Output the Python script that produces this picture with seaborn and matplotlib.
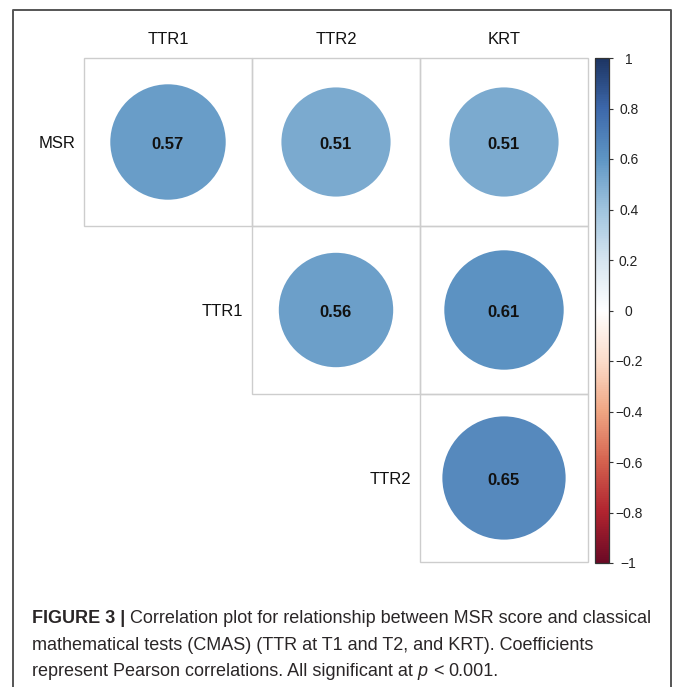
import numpy as np
import pandas as pd
import matplotlib
matplotlib.use("Agg")
import matplotlib.pyplot as plt
import seaborn as sns
from matplotlib.colors import LinearSegmentedColormap, Normalize
from matplotlib.cm import ScalarMappable
from matplotlib.patches import Rectangle
from matplotlib.lines import Line2D

# ---- data -------------------------------------------------------------
row_vars = ["MSR", "TTR1", "TTR2"]
col_vars = ["TTR1", "TTR2", "KRT"]
pair_rows = ["MSR", "MSR", "MSR", "TTR1", "TTR1", "TTR2"]
pair_cols = ["TTR1", "TTR2", "KRT", "TTR2", "KRT", "KRT"]
pearson_r = [0.57, 0.51, 0.51, 0.56, 0.61, 0.65]
cbar_ticks = [-1, -0.8, -0.6, -0.4, -0.2, 0, 0.2, 0.4, 0.6, 0.8, 1]
cbar_labels = ["\u22121", "\u22120.8", "\u22120.6", "\u22120.4", "\u22120.2", "0",
               "0.2", "0.4", "0.6", "0.8", "1"]
caption_lines = [
    [("FIGURE 3 |", "bold", "normal"),
     ("Correlation plot for relationship between MSR score and classical", "normal", "normal")],
    [("mathematical tests (CMAS) (TTR at T1 and T2, and KRT). Coefficients", "normal", "normal")],
    [("represent Pearson correlations. All significant at", "normal", "normal"),
     ("p", "normal", "italic"),
     ("<", "normal", "normal"),
     ("0.001.", "normal", "normal")],
]

# ---- style ------------------------------------------------------------
sns.set_style("white")
plt.rcParams["font.family"] = ["Liberation Sans", "DejaVu Sans"]
plt.rcParams["axes.unicode_minus"] = True

W, H, DPI = 673, 687, 100
fig = plt.figure(figsize=(W / DPI, H / DPI), dpi=DPI)
fig.patch.set_facecolor("white")

# diverging red-white-blue palette
cmap = LinearSegmentedColormap.from_list(
    "corr_rdbu",
    ["#6b0a25", "#b0232f", "#d4624f", "#f0a683", "#fbdcca", "#ffffff",
     "#d6e5f0", "#a0c4de", "#5f96c4", "#3d68ab", "#1d3563"],
    N=256,
)
norm = Normalize(-1, 1)

# ---- correlation grid -------------------------------------------------
left, top, cell = 84, 58, 168
ax = fig.add_axes([left / W, 1 - (top + 3 * cell) / H, 3 * cell / W, 3 * cell / H])

df = pd.DataFrame({
    "x": [col_vars.index(c) + 0.5 for c in pair_cols],
    "y": [row_vars.index(r) + 0.5 for r in pair_rows],
    "r": pearson_r,
})

cell_pt = cell * 72 / DPI
s_full = (0.91 * cell_pt) ** 2  # marker area for |r| = 1

for i in range(3):
    for j in range(i, 3):
        ax.add_patch(Rectangle((j, i), 1, 1, fill=False, edgecolor="#cdcdcd",
                               linewidth=1.0, zorder=1, clip_on=False))

sns.scatterplot(data=df, x="x", y="y", hue="r", palette=cmap, hue_norm=(-1, 1),
                size="r", sizes=(0, s_full), size_norm=(0, 1), linewidth=0,
                marker="o", legend=False, ax=ax, zorder=2, clip_on=False)

for _, row in df.iterrows():
    ax.text(row.x, row.y + 0.012, f"{row.r:.2f}", ha="center", va="center",
            fontsize=12, fontweight="bold", color="#111111", zorder=3)

ax.set_xlim(0, 3)
ax.set_ylim(3, 0)
ax.axis("off")

for j, name in enumerate(col_vars):
    ax.text(j + 0.5, -0.11, name, ha="center", va="center", fontsize=12,
            color="#111111", clip_on=False)
for i, name in enumerate(row_vars):
    ax.text(i - 0.05, i + 0.51, name, ha="right", va="center", fontsize=12,
            color="#111111", clip_on=False)

# ---- colour bar -------------------------------------------------------
cb_top, cb_bot = 58, 563
cax = fig.add_axes([594.5 / W, 1 - cb_bot / H, 14 / W, (cb_bot - cb_top) / H])
cb = fig.colorbar(ScalarMappable(norm=norm, cmap=cmap), cax=cax)
cb.set_ticks(cbar_ticks)
cb.set_ticklabels(cbar_labels)
cb.outline.set_edgecolor("#333333")
cb.outline.set_linewidth(0.9)
cax.tick_params(axis="y", length=3, width=0.8, color="#333333", pad=11.5,
                labelsize=10, labelcolor="#222222")
for lab in cax.get_yticklabels():
    lab.set_horizontalalignment("center")

# ---- frame ------------------------------------------------------------
frame_x = [13 / W, 13 / W, 671 / W, 671 / W]
frame_y = [-0.05, 1 - 9.5 / H, 1 - 9.5 / H, -0.05]
fig.add_artist(Line2D(frame_x, frame_y, color="#555555", linewidth=1.4,
                      transform=fig.transFigure))

# ---- caption ----------------------------------------------------------
renderer = fig.canvas.get_renderer()


def text_width(s, size, weight="normal", style="normal"):
    t = fig.text(0, 0, s, fontsize=size, fontweight=weight, fontstyle=style)
    w = t.get_window_extent(renderer=renderer).width
    t.remove()
    return w


def line_width(runs, size):
    sp = text_width("x x", size) - text_width("xx", size)
    total = sum(text_width(s, size, w, st) for s, w, st in runs)
    return total + sp * (len(runs) - 1)


base = 13.0
cap_size = base * 620 / line_width(caption_lines[0], base)
space = text_width("x x", cap_size) - text_width("xx", cap_size)

baselines = [623, 649.5, 676]
for runs, yb in zip(caption_lines, baselines):
    x = 32
    for s, weight, style in runs:
        t = fig.text(x / W, 1 - yb / H, s, fontsize=cap_size, fontweight=weight,
                     fontstyle=style, color="#2a2627", ha="left", va="baseline")
        x = t.get_window_extent(renderer=renderer).x1 + space

fig.savefig("out.png", dpi=DPI, facecolor="white")
